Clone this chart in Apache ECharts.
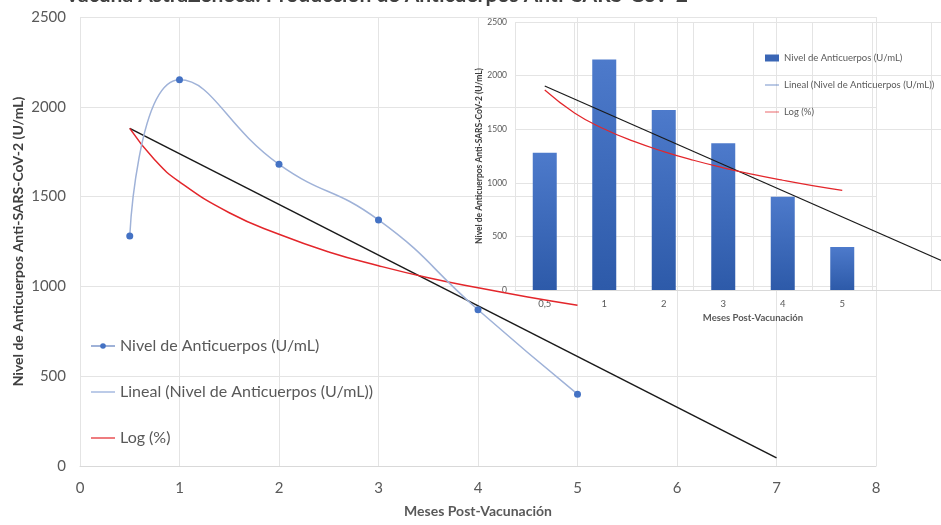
<!DOCTYPE html>
<html>
<head>
<meta charset="utf-8">
<script src="https://cdn.jsdelivr.net/npm/echarts@6/dist/echarts.min.js"></script>
<style>
html, body { margin: 0; padding: 0; background: #fff; }
#chart { width: 941px; height: 525px; }
</style>
</head>
<body>
<div id="chart"></div>
<script>
// datos
var meses = [0.5, 1, 2, 3, 4, 5];
var anticuerpos = [1280, 2150, 1680, 1370, 870, 400];
var linealPrincipal = [[0.5, 1880], [7, 45]];
var logPrincipal = [[0.5, 1880], [0.75, 1705], [1, 1582], [1.5, 1410], [2, 1290], [2.5, 1192], [3, 1115], [3.5, 1048], [4, 992], [4.5, 941], [5, 895]];

// grafico pequeño (barras)
var mesesBarras = ['0,5', '1', '2', '3', '4', '5', '', ''];
var linealBarras = [[0, 1903], [7, 193]];
var logBarras = [[0, 1865], [0.5, 1652], [1, 1502], [1.5, 1386], [2, 1291], [2.5, 1210], [3, 1140], [3.5, 1079], [4, 1024], [4.5, 974], [5, 930]];

var ejeX = [0, 8];
var ejeY = [0, 2500];

var gris = '#595959';
var fuente = 'Lato';
var nombreSerie = 'Nivel de Anticuerpos (U/mL)';
var nombreLineal = 'Lineal (Nivel de Anticuerpos (U/mL))';
var nombreLog = 'Log (%)';
var iconoLinea = 'path://M0,0 H24 V1.2 H0 Z';

function sinComas(v) {
    return String(v);
}

var myChart = echarts.init(document.getElementById('chart'));

myChart.setOption({
    animation: false,
    textStyle: { fontFamily: fuente },
    title: {
        text: 'Vacuna AstraZeneca: Producción de Anticuerpos Anti-SARS-CoV-2',
        left: 60,
        top: -20,
        textStyle: { fontSize: 21, fontWeight: 'bold', color: '#404040', fontFamily: fuente }
    },
    legend: [
        {
            orient: 'vertical',
            left: 90,
            top: 338,
            padding: 0,
            itemGap: 30,
            itemWidth: 24,
            itemHeight: 7,
            textStyle: { fontSize: 16, color: gris, fontFamily: fuente },
            data: [
                { name: nombreSerie },
                { name: nombreLineal, icon: iconoLinea, itemStyle: { color: '#8fa9d9' } },
                { name: nombreLog, icon: iconoLinea, itemStyle: { color: '#e3262b' } }
            ]
        },
        {
            orient: 'vertical',
            left: 765,
            top: 53,
            padding: 0,
            itemGap: 17,
            itemWidth: 14,
            itemHeight: 7,
            textStyle: { fontSize: 9.5, color: gris, fontFamily: fuente },
            data: [
                { name: nombreSerie, icon: 'rect', itemStyle: { color: '#3a66b5' } },
                { name: nombreLineal, icon: iconoLinea, itemStyle: { color: '#3a66b5' } },
                { name: nombreLog, icon: iconoLinea, itemStyle: { color: '#e3262b' } }
            ]
        }
    ],
    grid: [
        { left: 80, right: 65, top: 17, bottom: 59, outerBoundsMode: 'none' },
        { left: 515, top: 22, width: 476, height: 268, outerBoundsMode: 'none' }
    ],
    xAxis: [
        {
            type: 'value',
            gridIndex: 0,
            min: ejeX[0],
            max: ejeX[1],
            interval: 1,
            name: 'Meses Post-Vacunación',
            nameLocation: 'middle',
            nameGap: 38,
            nameMoveOverlap: false,
            nameTextStyle: { fontSize: 14, fontWeight: 'bold', color: gris, fontFamily: fuente },
            axisLine: { show: true, lineStyle: { color: '#d9d9d9' } },
            axisTick: { show: false },
            axisLabel: { fontSize: 15, color: gris, margin: 15, formatter: sinComas },
            splitLine: { show: true, lineStyle: { color: '#e4e4e4' } }
        },
        {
            type: 'category',
            gridIndex: 1,
            data: mesesBarras,
            name: 'Meses Post-Vacunación',
            nameLocation: 'middle',
            nameGap: 23,
            nameMoveOverlap: false,
            nameTextStyle: { fontSize: 9.5, fontWeight: 'bold', color: gris, fontFamily: fuente },
            axisLine: { show: true, lineStyle: { color: '#d9d9d9' } },
            axisTick: { show: false },
            axisLabel: { fontSize: 9.5, color: gris, margin: 9 },
            splitLine: { show: true, lineStyle: { color: '#e4e4e4' } }
        },
        {
            type: 'value',
            gridIndex: 1,
            min: -0.5,
            max: 7.5,
            show: false
        }
    ],
    yAxis: [
        {
            type: 'value',
            gridIndex: 0,
            min: ejeY[0],
            max: ejeY[1],
            interval: 500,
            name: 'Nivel de Anticuerpos Anti-SARS-CoV-2 (U/mL)',
            nameLocation: 'middle',
            nameGap: 55,
            nameMoveOverlap: false,
            nameTextStyle: { fontSize: 14, fontWeight: 'bold', color: '#404040', fontFamily: fuente },
            axisLine: { show: false },
            axisTick: { show: false },
            axisLabel: { fontSize: 15, color: gris, margin: 14, formatter: sinComas },
            splitLine: { lineStyle: { color: '#e4e4e4' } }
        },
        {
            type: 'value',
            gridIndex: 1,
            min: ejeY[0],
            max: ejeY[1],
            interval: 500,
            name: 'Nivel de Anticuerpos Anti-SARS-CoV-2 (U/mL)',
            nameLocation: 'middle',
            nameGap: 31,
            nameMoveOverlap: false,
            nameTextStyle: { fontSize: 8.5, fontWeight: 'bold', color: '#404040', fontFamily: fuente },
            axisLine: { show: false },
            axisTick: { show: false },
            axisLabel: { fontSize: 8.5, color: gris, margin: 8, formatter: sinComas },
            splitLine: { lineStyle: { color: '#e4e4e4' } }
        }
    ],
    series: [
        {
            name: nombreSerie,
            type: 'line',
            xAxisIndex: 0,
            yAxisIndex: 0,
            smooth: 0.5,
            data: meses.map(function (m, i) { return [m, anticuerpos[i]]; }),
            symbol: 'circle',
            symbolSize: 7,
            itemStyle: { color: '#4472c4' },
            lineStyle: { color: '#9fb2d8', width: 1.5 },
            z: 4
        },
        {
            name: nombreLineal,
            type: 'line',
            xAxisIndex: 0,
            yAxisIndex: 0,
            data: linealPrincipal,
            symbol: 'none',
            itemStyle: { color: '#1a1a1a' },
            lineStyle: { color: '#1a1a1a', width: 1.5 }
        },
        {
            name: nombreLog,
            type: 'line',
            xAxisIndex: 0,
            yAxisIndex: 0,
            smooth: true,
            data: logPrincipal,
            symbol: 'none',
            itemStyle: { color: '#e3262b' },
            lineStyle: { color: '#e3262b', width: 1.5 }
        },
        {
            name: nombreSerie,
            type: 'bar',
            xAxisIndex: 1,
            yAxisIndex: 1,
            data: anticuerpos,
            barWidth: 24,
            itemStyle: {
                color: new echarts.graphic.LinearGradient(0, 0, 0, 1, [
                    { offset: 0, color: '#4d7acb' },
                    { offset: 1, color: '#2d5aa9' }
                ])
            }
        },
        {
            name: nombreLineal,
            type: 'line',
            xAxisIndex: 2,
            yAxisIndex: 1,
            data: linealBarras,
            symbol: 'none',
            itemStyle: { color: '#1a1a1a' },
            lineStyle: { color: '#1a1a1a', width: 1.2 },
            z: 5
        },
        {
            name: nombreLog,
            type: 'line',
            xAxisIndex: 2,
            yAxisIndex: 1,
            smooth: true,
            data: logBarras,
            symbol: 'none',
            itemStyle: { color: '#e3262b' },
            lineStyle: { color: '#e3262b', width: 1.2 },
            z: 5
        }
    ]
});
</script>
</body>
</html>
